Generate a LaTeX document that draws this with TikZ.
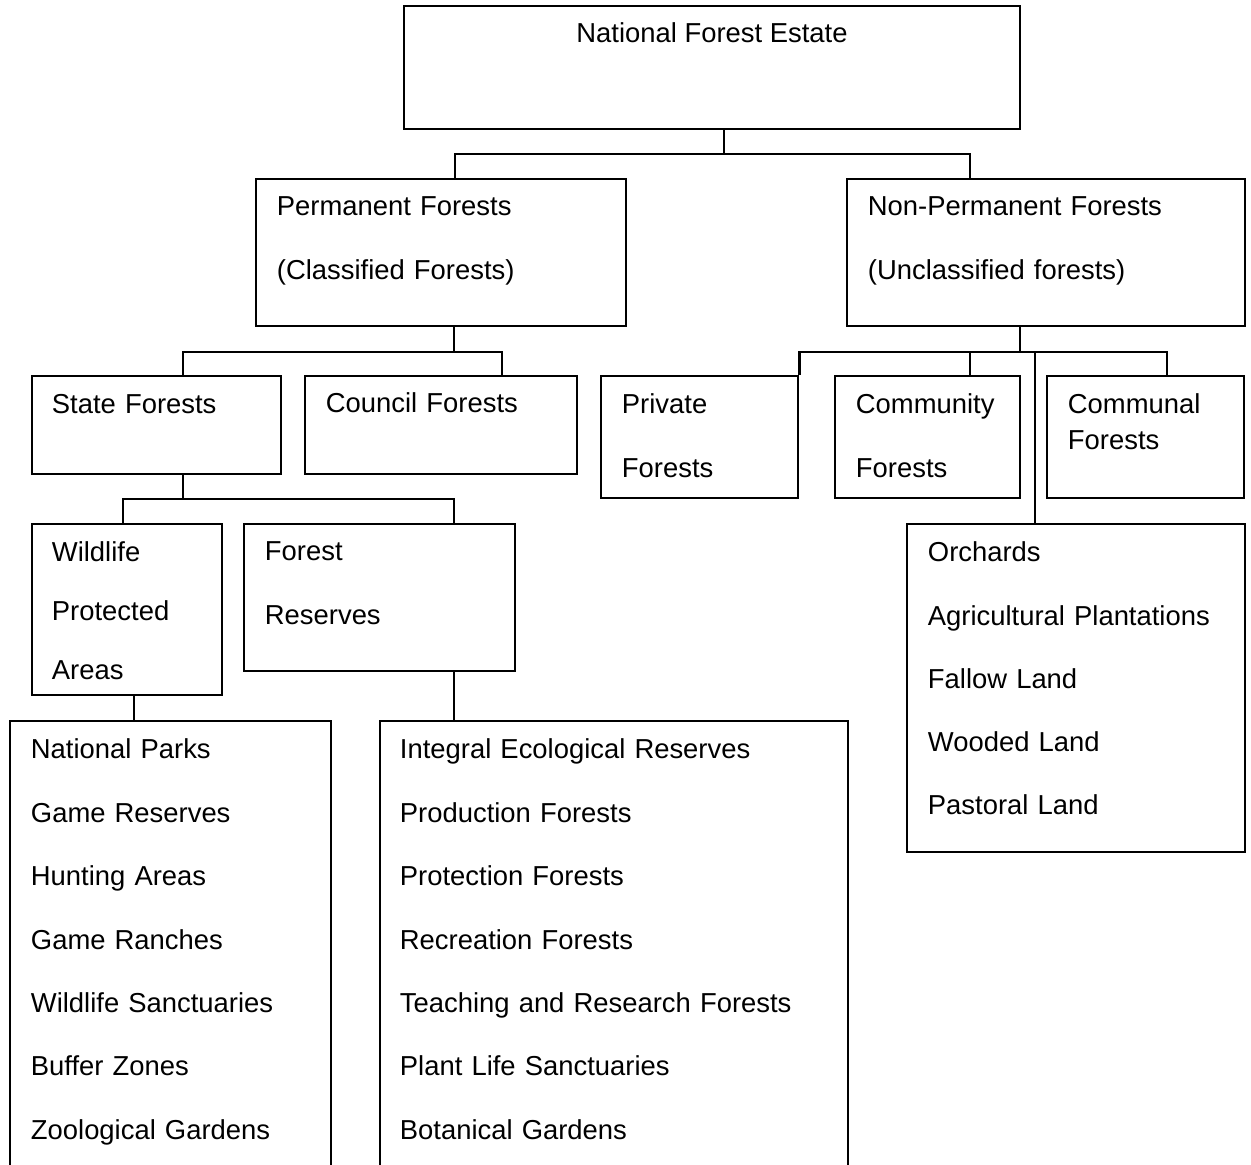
\documentclass[tikz,border=0pt]{standalone}
\usepackage{fontspec}
\setmainfont{Liberation Sans}
\usetikzlibrary{fit}

\tikzset{
  box/.style={draw, line width=1.6pt, inner sep=0pt},
  link/.style={line width=1.3pt},
  thinlink/.style={line width=0.8pt},
  txt/.style={anchor=north west, inner sep=0pt, align=left, text width=9cm,
    font=\fontsize{15.6}{36.3}\selectfont},
  tight/.style={font=\fontsize{15.6}{20.4}\selectfont},
}

\begin{document}
\begin{tikzpicture}[x=0.02cm, y=-0.02cm]
  \useasboundingbox (0,0) rectangle (1251,1164);
  \clip (0,0) rectangle (1251,1164);

  % boxes
  \node[box, fit={(404,6) (1020,129)}] (estate) {};
  \node[box, fit={(256,179) (626,326)}] (perm) {};
  \node[box, fit={(847,179) (1245,326)}] (nonperm) {};
  \node[box, fit={(32,376) (281,474)}] (state) {};
  \node[box, fit={(305,376) (577,474)}] (council) {};
  \node[box, fit={(601,376) (798,498)}] (private) {};
  \node[box, fit={(835,376) (1020,498)}] (community) {};
  \node[box, fit={(1047,376) (1244,498)}] (communal) {};
  \node[box, fit={(32,524) (222,695)}] (wildlife) {};
  \node[box, fit={(244,524) (515,671)}] (reserves) {};
  \node[box, fit={(907,524) (1245,852)}] (orchards) {};
  \node[box, fit={(10,721) (331,1200)}] (parks) {};
  \node[box, fit={(380,721) (848,1200)}] (ecol) {};

  % texts
  \node[anchor=north, inner sep=0pt, font=\fontsize{15.6}{18}\selectfont]
    (estate-t) at ([yshift=-18*0.02cm]estate.north) {National Forest Estate};
  \node[txt] (perm-t) at ([shift={(22,19)}]perm.north west)
    {Permanent Forests\\(Classified Forests)};
  \node[txt] (nonperm-t) at ([shift={(22,19)}]nonperm.north west)
    {Non-Permanent Forests\\(Unclassified forests)};
  \node[txt] (state-t) at ([shift={(21,19)}]state.north west) {State Forests};
  \node[txt] (council-t) at ([shift={(22,18)}]council.north west) {Council Forests};
  \node[txt] (private-t) at ([shift={(22,19)}]private.north west) {Private\\Forests};
  \node[txt] (community-t) at ([shift={(22,19)}]community.north west) {Community\\Forests};
  \node[txt, tight] (communal-t) at ([shift={(22,19)}]communal.north west) {Communal\\Forests};
  \node[txt, font=\fontsize{15.6}{33.4}\selectfont] (wildlife-t) at ([shift={(21,19)}]wildlife.north west)
    {Wildlife\\Protected\\Areas};
  \node[txt] (reserves-t) at ([shift={(22,19)}]reserves.north west) {Forest\\Reserves};
  \node[txt, font=\fontsize{15.6}{36}\selectfont] (orchards-t) at ([shift={(22,19)}]orchards.north west)
    {Orchards\\Agricultural Plantations\\Fallow Land\\Wooded Land\\Pastoral Land};
  \node[txt, font=\fontsize{15.6}{36.1}\selectfont] (parks-t) at ([shift={(22,19)}]parks.north west)
    {National Parks\\Game Reserves\\Hunting Areas\\Game Ranches\\Wildlife Sanctuaries\\Buffer Zones\\Zoological Gardens};
  \node[txt, font=\fontsize{15.6}{36.1}\selectfont] (ecol-t) at ([shift={(21,19)}]ecol.north west)
    {Integral Ecological Reserves\\Production Forests\\Protection Forests\\Recreation Forests\\Teaching and Research Forests\\Plant Life Sanctuaries\\Botanical Gardens};

  % connectors
  \coordinate (j1) at (724,154);
  \coordinate (j2) at (454,352);
  \coordinate (j3) at (1020,352);
  \coordinate (j4) at (183,499);

  \draw[link] (estate.south -| j1) -- (j1);
  \draw[link] (perm.north -| 455,0) |- (j1) -| (nonperm.north -| 970,0);

  \draw[link] (perm.south -| j2) -- (j2);
  \draw[link] (state.north -| 183,0) |- (j2) -| (council.north -| 502,0);

  \draw[link] (nonperm.south -| j3) -- (j3);
  \draw[link] (private.north east) |- (j3) -| (communal.north -| 1167,0);
  \draw[link] (community.north -| 970,0) -- (j3 -| 970,0);
  \draw[thinlink] (j3 -| 1035,0) -- (orchards.north -| 1035,0);

  \draw[link] (state.south -| j4) -- (j4);
  \draw[link] (wildlife.north -| 123,0) |- (j4) -| (reserves.north -| 454,0);

  \draw[link] (wildlife.south -| 134,0) -- (parks.north -| 134,0);
  \draw[link] (reserves.south -| 454,0) -- (ecol.north -| 454,0);
\end{tikzpicture}
\end{document}
